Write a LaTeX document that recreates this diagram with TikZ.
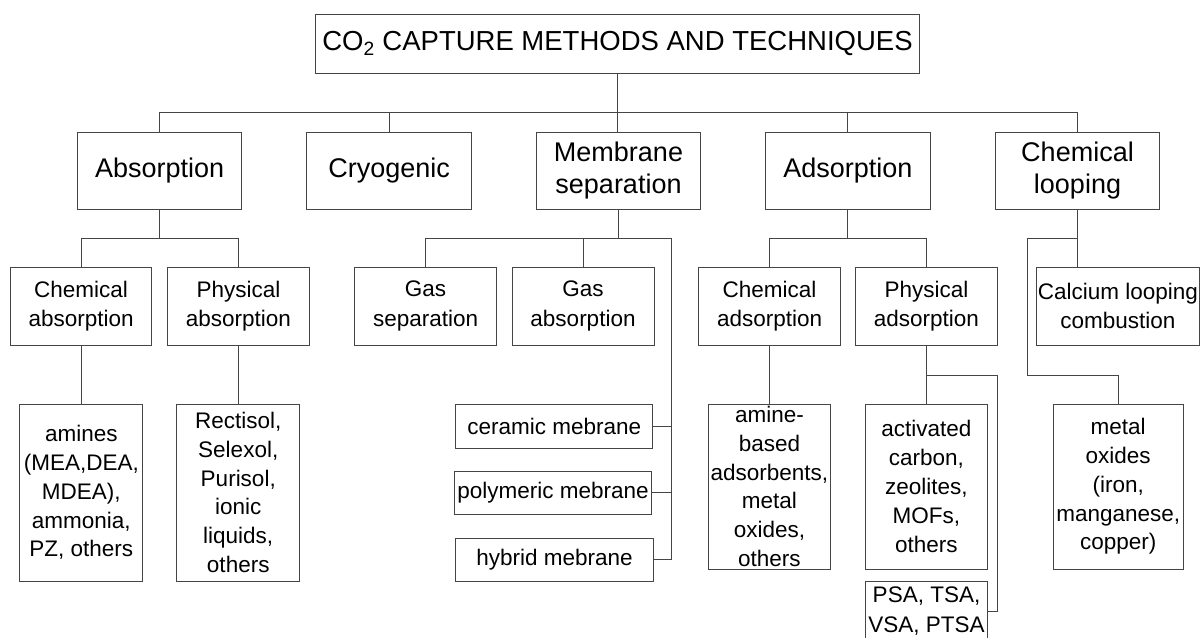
\documentclass[tikz,border=0pt]{standalone}
\usepackage{fontspec}
\setmainfont{Liberation Sans}
\definecolor{linec}{HTML}{454545}
\begin{document}
\begin{tikzpicture}[x=1pt,y=-1pt,
  box/.style={draw=linec, line width=1pt, inner sep=0pt, align=center, text=black},
  lvla/.style={box, font=\fontsize{27}{32.7}\selectfont, minimum height=77pt},
  lvlb/.style={box, font=\fontsize{22.5}{29.3}\selectfont, minimum height=78pt},
  lvlc/.style={box, font=\fontsize{22.5}{28.8}\selectfont},
  conn/.style={draw=linec, line width=1pt}]
\useasboundingbox (0,0) rectangle (1201,637);
% title
\node[box, font=\fontsize{27.5}{33}\selectfont, minimum width=603.6pt, minimum height=59pt] (T) at (617.5,43.5) {CO\textsubscript{2} CAPTURE METHODS AND TECHNIQUES};
% level 1
\node[lvla, minimum width=163.8pt] (A) at (159.6,170.5) {Absorption};
\node[lvla, minimum width=164.6pt] (C) at (389.2,170.5) {Cryogenic};
\node[lvla, minimum width=164.6pt] (M) at (618.5,170.5) {Membrane\\separation};
\node[lvla, minimum width=164.4pt] (D) at (847.8,170.5) {Adsorption};
\node[lvla, minimum width=164.1pt] (L) at (1077.5,170.5) {Chemical\\looping};
% level 2
\node[lvlb, minimum width=141.6pt] (CA) at (81.1,306) {Chemical\\absorption};
\node[lvlb, minimum width=142.4pt] (PA) at (238.4,306) {Physical\\absorption};
\node[lvlb, minimum width=141.6pt] (GS) at (425.6,306) {Gas\\separation};
\node[lvlb, minimum width=142pt] (GA) at (583,306) {Gas\\absorption};
\node[lvlb, minimum width=141.4pt] (CD) at (769.6,306) {Chemical\\adsorption};
\node[lvlb, minimum width=141.5pt] (PD) at (926.4,306) {Physical\\adsorption};
\node[lvlb, minimum width=163.3pt] (CL) at (1117.9,306) {Calcium looping\\combustion};
% level 3
\node[lvlc, minimum width=122.8pt, minimum height=177pt] (AM) at (81.3,492.5) {amines\\(MEA,DEA,\\MDEA),\\ammonia,\\PZ, others};
\node[lvlc, minimum width=122.9pt, minimum height=177pt] (RS) at (238.25,492.5) {Rectisol,\\Selexol,\\Purisol,\\ionic\\liquids,\\others};
\node[lvlc, minimum width=197.5pt, minimum height=44pt] (CM) at (554.2,426) {ceramic mebrane};
\node[lvlc, minimum width=197.4pt, minimum height=43pt] (PM) at (553,492.5) {polymeric mebrane};
\node[lvlc, minimum width=198.3pt, minimum height=43pt] (HM) at (554.5,559.5) {hybrid mebrane};
\node[lvlc, minimum width=122.6pt, minimum height=165pt] (AB) at (769.4,486.5) {amine-\\based\\adsorbents,\\metal\\oxides,\\others};
\node[lvlc, minimum width=122.3pt, minimum height=165pt] (AC) at (926.4,486.5) {activated\\carbon,\\zeolites,\\MOFs,\\others};
\node[lvlc, minimum width=122.1pt, inner ysep=6pt, anchor=north, font=\fontsize{22.5}{30}\selectfont] (PS) at (926.5,580.5) {PSA, TSA,\\VSA, PTSA};
\node[lvlc, minimum width=130.4pt, minimum height=165pt] (MO) at (1118.2,486.5) {metal\\oxides\\(iron,\\manganese,\\copper)};
% connectors
\coordinate (b1) at (0,112);
\coordinate (b2) at (0,238);
\draw[conn] (T.south) -- (T.south |- M.north);
\draw[conn] (A.north) -- (A.north |- b1) -- (L.north |- b1) -- (L.north);
\draw[conn] (C.north) -- (C.north |- b1);
\draw[conn] (D.north) -- (D.north |- b1);
\draw[conn] (A.south) -- (A.south |- b2);
\draw[conn] (CA.north) -- (CA.north |- b2) -- (PA.north |- b2) -- (PA.north);
\draw[conn] (CA.south) -- (CA.south |- AM.north);
\draw[conn] (PA.south) -- (PA.south |- RS.north);
\coordinate (mr) at (671.3,238);
\draw[conn] (M.south) -- (M.south |- b2);
\draw[conn] (GS.north) -- (GS.north |- b2) -- (mr) -- (mr |- HM.east) -- (HM.east);
\draw[conn] (GA.north) -- (GA.north |- b2);
\draw[conn] (CM.east) -- (CM.east -| mr);
\draw[conn] (PM.east) -- (PM.east -| mr);
\draw[conn] (D.south) -- (D.south |- b2);
\draw[conn] (CD.north) -- (CD.north |- b2) -- (PD.north |- b2) -- (PD.north);
\draw[conn] (CD.south) -- (CD.south |- AB.north);
\coordinate (pb) at (997.1,375);
\draw[conn] (PD.south) -- (PD.south |- AC.north);
\draw[conn] (PD.south |- pb) -- (pb) -- (pb |- PS.east) -- (PS.east);
\coordinate (lb) at (1027.7,375);
\draw[conn] (L.south) -- (L.south |- CL.north);
\draw[conn] (L.south |- b2) -- (lb |- b2) -- (lb) -- (MO.north |- lb) -- (MO.north);
\end{tikzpicture}
\end{document}
